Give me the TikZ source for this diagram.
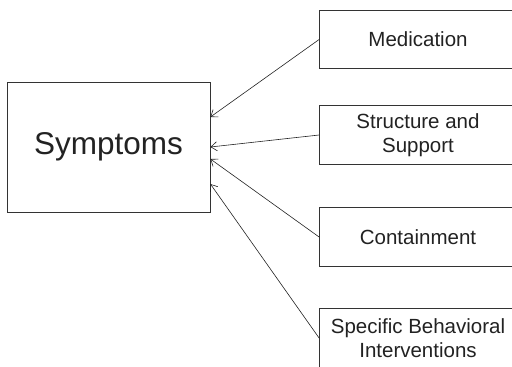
\documentclass[tikz,border=0pt]{standalone}
\usepackage{fontspec}
\setmainfont{Liberation Sans}
\usetikzlibrary{arrows.meta}
\definecolor{ink}{HTML}{222222}
\definecolor{rule}{HTML}{333333}
\begin{document}
\begin{tikzpicture}[x=1pt,y=-1pt,
  box/.style={draw=rule,line width=0.8pt,rectangle,inner sep=0pt,text=ink},
  factor/.style={box,minimum width=197pt,minimum height=58.5pt,align=center,
    font=\fontsize{20.5}{24.5}\selectfont},
  link/.style={draw=ink,line width=0.6pt,-{Straight Barb[length=6pt,width=9pt]}}]
  \useasboundingbox (0,0) rectangle (512,367);
  \clip (0,0) rectangle (512,367);
  % central node
  \node[box,minimum width=203pt,minimum height=130pt,
        font=\fontsize{31.5}{36}\selectfont] (sym) at (108.5,147) {Symptoms};
  % contributing factors
  \node[factor] (med) at (418,39.5) {Medication};
  \node[factor] (str) at (418,135) {Structure and\\Support};
  \node[factor] (con) at (418,237) {Containment};
  \node[factor,minimum height=60pt] (spe) at (418,338) {Specific Behavioral\\Interventions};
  % influences on symptoms
  \draw[link] (med.west) -- ([yshift=30pt]sym.east);
  \draw[link] (str.west) -- (sym.east);
  \draw[link] (con.west) -- ([yshift=-12pt]sym.east);
  \draw[link] (spe.west) -- ([yshift=-37pt]sym.east);
\end{tikzpicture}
\end{document}
